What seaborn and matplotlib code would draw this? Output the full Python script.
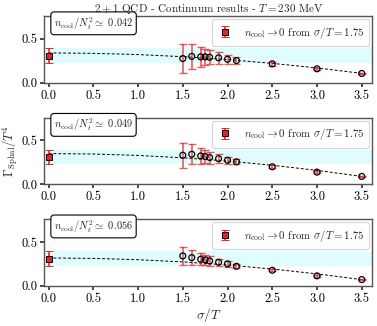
import numpy as np
import pandas as pd
import matplotlib
matplotlib.use("Agg")
import matplotlib.pyplot as plt
import seaborn as sns

# ---- data ----
sigma = [1.5, 1.6, 1.7, 1.75, 1.8, 1.9, 2.0, 2.1, 2.5, 3.0, 3.5]
ratios = ["0.042", "0.049", "0.056"]
gamma_1 = [0.276, 0.300, 0.295, 0.295, 0.290, 0.284, 0.268, 0.253, 0.216, 0.159, 0.106]
err_1 = [0.170, 0.145, 0.110, 0.095, 0.080, 0.065, 0.050, 0.035, 0.020, 0.012, 0.008]
gamma_2 = [0.331, 0.342, 0.323, 0.316, 0.305, 0.293, 0.274, 0.256, 0.200, 0.139, 0.090]
err_2 = [0.143, 0.113, 0.087, 0.077, 0.068, 0.053, 0.041, 0.030, 0.015, 0.010, 0.007]
gamma_3 = [0.341, 0.322, 0.303, 0.295, 0.284, 0.269, 0.250, 0.223, 0.178, 0.114, 0.072]
err_3 = [0.100, 0.083, 0.066, 0.060, 0.053, 0.038, 0.030, 0.025, 0.012, 0.008, 0.006]
fit_x = [0.0, 0.5, 1.0, 1.5, 2.0, 2.5, 3.0, 3.5]
fit_1 = [0.340, 0.335, 0.321, 0.297, 0.264, 0.221, 0.169, 0.107]
fit_2 = [0.350, 0.345, 0.329, 0.302, 0.265, 0.217, 0.159, 0.090]
fit_3 = [0.318, 0.313, 0.298, 0.273, 0.238, 0.192, 0.137, 0.072]
extrap_x = [0.0, 0.0, 0.0]
extrap_y = [0.310, 0.310, 0.310]
extrap_err = [0.082, 0.080, 0.083]
xticks = [0.0, 0.5, 1.0, 1.5, 2.0, 2.5, 3.0, 3.5]
yticks = [0.0, 0.5]

panels = [
    (gamma_1, err_1, fit_1),
    (gamma_2, err_2, fit_2),
    (gamma_3, err_3, fit_3),
]

sns.set_theme(style="ticks")
plt.rcParams.update({
    "font.family": ["serif"],
    "font.serif": ["cmr10", "DejaVu Serif"],
    "mathtext.fontset": "cm",
    "axes.formatter.use_mathtext": True,
    "axes.edgecolor": "#555555",
    "axes.linewidth": 1.0,
    "xtick.color": "#333333",
    "ytick.color": "#333333",
    "xtick.labelcolor": "black",
    "ytick.labelcolor": "black",
    "xtick.major.size": 3,
    "ytick.major.size": 3,
    "xtick.labelsize": 9,
    "ytick.labelsize": 9,
})

fig, axes = plt.subplots(3, 1, figsize=(3.77, 3.26), dpi=100)
fig.subplots_adjust(left=0.117, right=0.988, top=0.951, bottom=0.123, hspace=0.52)

red = "#e8242a"
for i, (ax, (g, e, f)) in enumerate(zip(axes, panels)):
    ax.axhspan(extrap_y[i] - extrap_err[i], extrap_y[i] + extrap_err[i],
               color="#dffdfd", lw=0, zorder=0)
    sns.lineplot(x=fit_x, y=f, ax=ax, color="black", lw=0.7,
                 linestyle=(0, (3, 2)), zorder=2)
    ax.errorbar(sigma, g, yerr=e, fmt="none", ecolor=red, alpha=0.75,
                elinewidth=1.2, capsize=2.8, capthick=1.0, zorder=3)
    sns.scatterplot(x=sigma, y=g, ax=ax, marker="o", s=18,
                    facecolor="none", edgecolor="black", linewidth=0.9, zorder=4)
    ax.errorbar([extrap_x[i]], [extrap_y[i]], yerr=[extrap_err[i]], fmt="s",
                color=red, mfc=red, mec="black", ms=4.5, mew=0.7,
                ecolor=red, elinewidth=1.2, capsize=2.8, capthick=1.0, zorder=5,
                label=r"$n_{\rm cool}\to 0$ from $\sigma/T = 1.75$")
    ax.set_xlim(-0.05, 3.62)
    ax.set_ylim(0, 0.76)
    ax.set_xticks(xticks)
    ax.set_yticks(yticks)
    ax.set_xticklabels([f"{v:.1f}" for v in xticks])
    ax.set_yticklabels([f"{v:.1f}" for v in yticks])
    ax.tick_params(pad=2)
    ax.text(0.03, 0.89, r"$n_{\rm cool}/N_t^2 \simeq$" + " " + ratios[i],
            transform=ax.transAxes, fontsize=7.5, va="center", ha="left",
            bbox=dict(boxstyle="round,pad=0.3", fc="white", ec="black", lw=0.8))
    leg = ax.legend(loc="upper right", fontsize=7.8, frameon=True, fancybox=True,
                    handlelength=1.4, borderpad=0.5, borderaxespad=0.3,
                    handletextpad=1.0)
    leg.get_frame().set_edgecolor("#cccccc")
    leg.get_frame().set_linewidth(0.8)

axes[0].set_title(r"$2+1$ QCD - Continuum results - $T = 230$ MeV", fontsize=8, pad=3)
axes[1].set_ylabel(r"$\Gamma_{\rm Sphal}/T^4$", fontsize=9, labelpad=1)
axes[2].set_xlabel(r"$\sigma/T$", fontsize=9.5, labelpad=1)

fig.savefig("out.png", dpi=100)
